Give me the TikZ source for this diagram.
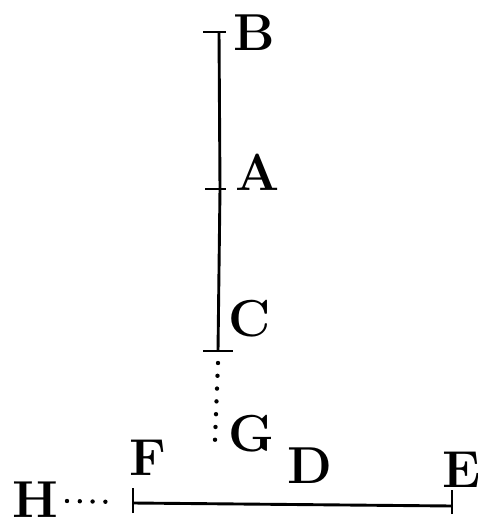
\documentclass[tikz,border=0pt]{standalone}
\begin{document}
\begin{tikzpicture}[x=1pt,y=-1pt,line width=2.9pt,
    lbl/.style={inner sep=0pt, font=\fontsize{52}{52}\selectfont\bfseries},
    dotline/.style={line width=4.4pt, line cap=round, dash pattern=on 0pt off 12.8pt}]
    \useasboundingbox (0,0) rectangle (478,525);

    % Points on the upright line
    \coordinate (pB) at (219,32);
    \coordinate (pA) at (220,189);
    \coordinate (pC) at (218,351);
    \coordinate (gTop) at (218,363);
    \coordinate (pG) at (215,440);

    % Points on the lower line
    \coordinate (pF) at (133,503);
    \coordinate (pE) at (452,506);
    \coordinate (hEnd) at (118,502);
    \coordinate (pH) at (67,501);

    % Upright line with its marks
    \draw (pB) -- (pA) -- (pC);
    \draw ([xshift=-16pt]pB) -- ([xshift=7pt]pB);
    \draw ([xshift=-15pt]pA) -- ([xshift=6pt]pA);
    \draw ([xshift=-15pt]pC) -- ([xshift=15pt]pC);
    \draw[dotline] (gTop) -- (pG);

    % Lower line with its marks
    \draw (pF) -- (pE);
    \draw ([yshift=-10pt]pF) -- ([yshift=15pt]pF);
    \draw ([yshift=-8pt]pE) -- ([yshift=16pt]pE);
    \draw[dotline] (pH) -- (hEnd);

    % Letters
    \node[lbl] (B) at (254,33) {B};
    \node[lbl] (A) at (258,172) {A};
    \node[lbl] (C) at (250,319) {C};
    \node[lbl] (G) at (251,434) {G};
    \node[lbl] (D) at (310,466) {D};
    \node[lbl] (F) at (148,458) {F};
    \node[lbl] (E) at (462,470) {E};
    \node[lbl] (H) at (35,500) {H};
\end{tikzpicture}
\end{document}
